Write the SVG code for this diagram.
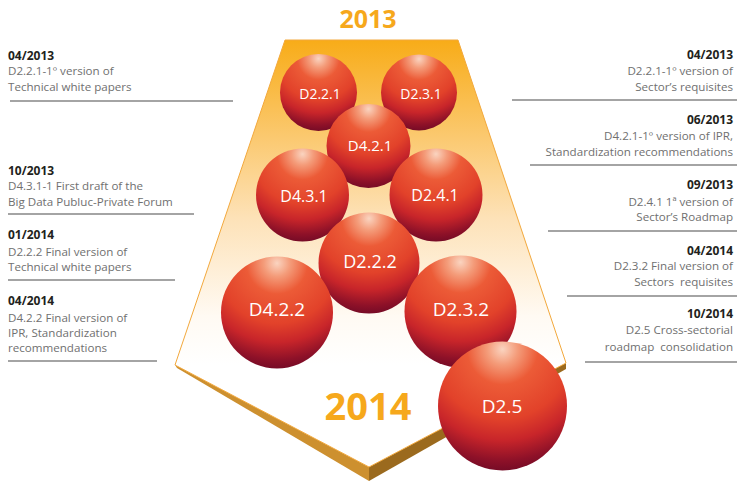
<svg xmlns="http://www.w3.org/2000/svg" width="737" height="482" viewBox="0 0 737 482">
<defs>
<linearGradient id="bg" gradientUnits="userSpaceOnUse" x1="0" y1="40" x2="0" y2="365">
<stop offset="0" stop-color="#F8AC18"/>
<stop offset="0.3" stop-color="#FBC970"/>
<stop offset="0.55" stop-color="#FDE2B8"/>
<stop offset="0.85" stop-color="#FFFAF3"/>
<stop offset="1" stop-color="#FFFFFF"/>
</linearGradient>
<radialGradient id="ball" cx="0.5" cy="0.06" fx="0.5" fy="0.06" r="0.98">
<stop offset="0" stop-color="#FAD4C0"/>
<stop offset="0.12" stop-color="#F49C7A"/>
<stop offset="0.28" stop-color="#EC5B37"/>
<stop offset="0.55" stop-color="#E2422A"/>
<stop offset="0.72" stop-color="#C8252A"/>
<stop offset="0.88" stop-color="#8E1128"/>
<stop offset="1" stop-color="#6A0825"/>
</radialGradient>
</defs>
<style>
.date{font-family:"Open Sans","Liberation Sans",sans-serif;font-weight:bold;font-size:12px;fill:#231F20}
.body{font-family:"Open Sans","Liberation Sans",sans-serif;font-size:11.6px;fill:#707070}
.r{text-anchor:end}
.rule{stroke:#4a4a4a;stroke-width:1.2}
.ball{fill:url(#ball)}
.lab{font-family:"Open Sans","Liberation Sans",sans-serif;fill:#FFFFFF;text-anchor:middle}
.year{font-family:"Open Sans","Liberation Sans",sans-serif;font-weight:bold;fill:#F6A81C;text-anchor:middle}
</style>

<g id="base">
<polygon points="175,365 369,467 369,481 177,368" fill="#CD902F"/>
<polygon points="369,467 566,363 566,369 369,481" fill="#9B6A1E"/>
<polygon points="285,40 458,40 566,363 369,467 175,365" fill="url(#bg)" stroke="#F2A83C" stroke-width="1"/>
</g>

<text class="year" x="368" y="28" font-size="25">2013</text>
<text class="year" x="368" y="420" font-size="38">2014</text>

<g id="n-d221"><circle class="ball" cx="318.5" cy="92.5" r="38.5"/><text class="lab" x="320" y="99" font-size="14">D2.2.1</text></g>
<g id="n-d231"><circle class="ball" cx="419" cy="92.5" r="38"/><text class="lab" x="421" y="99" font-size="14">D2.3.1</text></g>
<g id="n-d421"><circle class="ball" cx="368.5" cy="146" r="42"/><text class="lab" x="370" y="151" font-size="15">D4.2.1</text></g>
<g id="n-d431"><circle class="ball" cx="302.5" cy="195" r="46.5"/><text class="lab" x="304" y="202" font-size="16">D4.3.1</text></g>
<g id="n-d241"><circle class="ball" cx="436" cy="195" r="46.5"/><text class="lab" x="435" y="201" font-size="16">D2.4.1</text></g>
<g id="n-d222"><circle class="ball" cx="369" cy="263" r="50.5"/><text class="lab" x="370" y="268" font-size="18">D2.2.2</text></g>
<g id="n-d422"><circle class="ball" cx="277" cy="312.5" r="56"/><text class="lab" x="277" y="316" font-size="19">D4.2.2</text></g>
<g id="n-d232"><circle class="ball" cx="460.5" cy="311.5" r="56"/><text class="lab" x="461" y="316" font-size="19">D2.3.2</text></g>
<g id="n-d25"><circle class="ball" cx="502.5" cy="406" r="64.5"/><text class="lab" x="502" y="413" font-size="19">D2.5</text></g>

<g id="left-notes">
<text class="date" x="8" y="60">04/2013</text>
<text class="body" x="8" y="75">D2.2.1-1º version of</text>
<text class="body" x="8" y="91">Technical white papers</text>
<line class="rule" x1="10" y1="101" x2="233" y2="101"/>

<text class="date" x="8" y="175">10/2013</text>
<text class="body" x="8" y="190">D4.3.1-1 First draft of the</text>
<text class="body" x="8" y="206">Big Data Publuc-Private Forum</text>
<line class="rule" x1="8" y1="214" x2="194" y2="214"/>

<text class="date" x="8" y="239">01/2014</text>
<text class="body" x="8" y="256">D2.2.2 Final version of</text>
<text class="body" x="8" y="271">Technical white papers</text>
<line class="rule" x1="8" y1="280" x2="175" y2="280"/>

<text class="date" x="8" y="305">04/2014</text>
<text class="body" x="8" y="322">D4.2.2 Final version of</text>
<text class="body" x="8" y="337">IPR, Standardization</text>
<text class="body" x="8" y="352">recommendations</text>
<line class="rule" x1="8" y1="361" x2="157" y2="361"/>
</g>

<g id="right-notes">
<text class="date r" x="733" y="59">04/2013</text>
<text class="body r" x="733" y="75">D2.2.1-1º version of</text>
<text class="body r" x="733" y="91">Sector’s requisites</text>
<line class="rule" x1="512" y1="100" x2="737" y2="100"/>

<text class="date r" x="733" y="124">06/2013</text>
<text class="body r" x="733" y="140">D4.2.1-1º version of IPR,</text>
<text class="body r" x="733" y="156">Standardization recommendations</text>
<line class="rule" x1="530" y1="165" x2="737" y2="165"/>

<text class="date r" x="733" y="189">09/2013</text>
<text class="body r" x="733" y="206">D2.4.1 1ª version of</text>
<text class="body r" x="733" y="221">Sector’s Roadmap</text>
<line class="rule" x1="548" y1="231" x2="737" y2="231"/>

<text class="date r" x="733" y="255">04/2014</text>
<text class="body r" x="733" y="270">D2.3.2 Final version of</text>
<text class="body r" x="733" y="286" xml:space="preserve">Sectors  requisites</text>
<line class="rule" x1="567" y1="296" x2="737" y2="296"/>

<text class="date r" x="733" y="318">10/2014</text>
<text class="body r" x="733" y="334">D2.5 Cross-sectorial</text>
<text class="body r" x="733" y="351" xml:space="preserve">roadmap  consolidation</text>
<line class="rule" x1="585" y1="362" x2="737" y2="362"/>
</g>
</svg>
